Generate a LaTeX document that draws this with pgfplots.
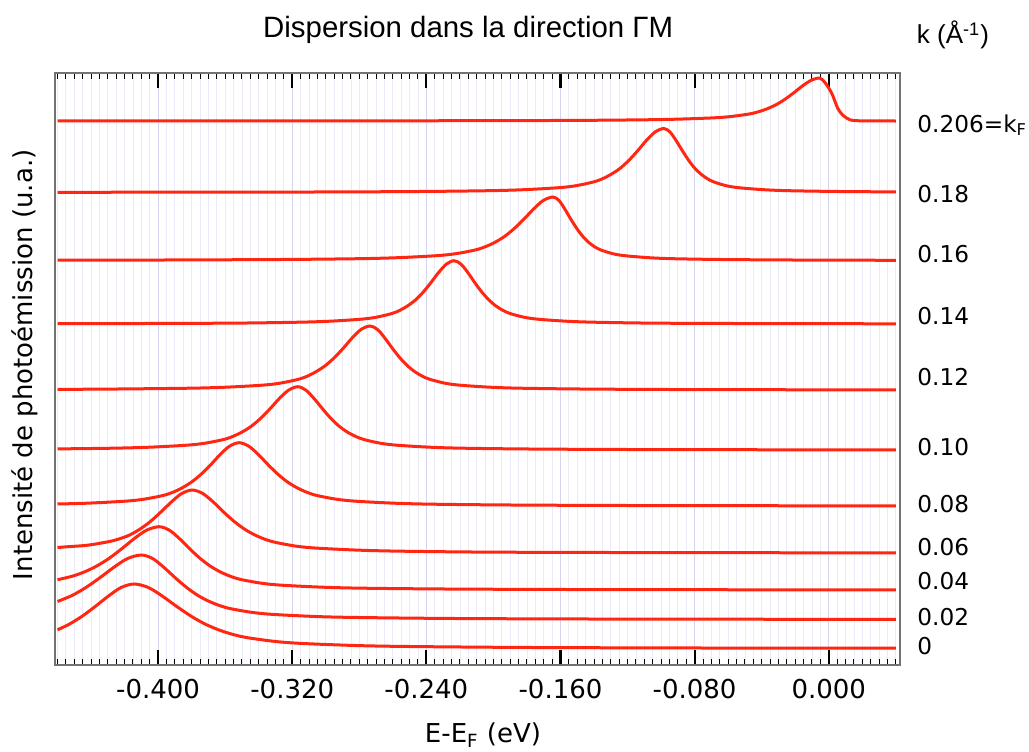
\documentclass[border=0pt]{standalone}
\usepackage{fontspec}
\setmainfont{DejaVu Sans}
\newfontfamily\helv{Liberation Sans}
\usepackage{pgfplots}
\pgfplotsset{compat=1.18}
\definecolor{edc}{RGB}{255,38,18}
\definecolor{gridmin}{RGB}{234,234,248}
\definecolor{gridmaj}{RGB}{212,212,240}
\newcommand\lbl{\fontsize{13}{15}\selectfont}
\newcommand\klbl{\fontsize{11.6}{14}\selectfont}
\tikzset{edcline/.style={draw=edc, solid, line width=1.5pt, smooth, mark=none}}

\begin{document}
\begin{tikzpicture}
\useasboundingbox (-27.5pt,-43pt) rectangle (487pt,332.5pt);
\begin{axis}[
  at={(0,0)}, anchor=south west,
  scale only axis, width=422.5pt, height=296pt,
  xmin=-0.4615, xmax=0.0425, ymin=0, ymax=592,
  xtick={-0.4,-0.32,-0.24,-0.16,-0.08,0},
  xticklabels={-0.400,-0.320,-0.240,-0.160,-0.080,0.000},
  minor xtick={-0.46,-0.455,...,0.041},
  ytick=\empty,
  tick pos=both, tick align=inside,
  major tick length=7.5pt, minor tick length=3pt,
  major tick style={black, line width=1.1pt},
  minor tick style={black, line width=0.5pt},
  xmajorgrids, xminorgrids,
  major grid style={draw=gridmaj, line width=0.5pt},
  minor grid style={draw=gridmin, line width=0.4pt},
  axis line style={draw=black!55, line width=0.8pt},
  tick label style={font=\lbl},
  xticklabel style={yshift=-3.5pt},
  clip=false,
]
% k = 0
\addplot[edcline] coordinates {(-0.4600,35.2) (-0.4530,40.8) (-0.4453,48.8) (-0.4376,58.4) (-0.4298,68.7) (-0.4221,77.5) (-0.4143,81.0) (-0.4058,77.5) (-0.3973,68.7) (-0.3888,58.4) (-0.3803,48.8) (-0.3718,40.8) (-0.3633,34.8) (-0.3548,30.3) (-0.3463,27.2) (-0.3293,23.4) (-0.3123,21.4) (-0.2783,19.3) (-0.2443,18.4) (-0.1763,17.5) (-0.0743,17.0) (0.0400,16.8)};
% k = 0.02
\addplot[edcline] coordinates {(-0.4600,63.5) (-0.4510,69.8) (-0.4428,77.8) (-0.4346,87.4) (-0.4264,97.7) (-0.4182,106.5) (-0.4100,110.0) (-0.4033,106.5) (-0.3966,97.7) (-0.3899,87.4) (-0.3832,77.8) (-0.3765,69.8) (-0.3698,63.8) (-0.3631,59.3) (-0.3564,56.2) (-0.3430,52.4) (-0.3296,50.4) (-0.3028,48.3) (-0.2760,47.4) (-0.2224,46.5) (-0.1420,46.0) (-0.0080,45.7) (0.0400,45.7)};
% k = 0.04
\addplot[edcline] coordinates {(-0.4600,85.3) (-0.4516,88.6) (-0.4441,93.0) (-0.4367,98.9) (-0.4292,106.7) (-0.4218,116.1) (-0.4143,126.3) (-0.4069,134.8) (-0.3994,138.3) (-0.3933,134.8) (-0.3872,126.3) (-0.3811,116.1) (-0.3750,106.7) (-0.3689,98.9) (-0.3628,93.0) (-0.3567,88.6) (-0.3506,85.5) (-0.3384,81.8) (-0.3262,79.8) (-0.3018,77.8) (-0.2774,76.8) (-0.2286,76.0) (-0.1554,75.5) (-0.0334,75.2) (0.0400,75.1)};
% k = 0.06
\addplot[edcline] coordinates {(-0.4600,117.5) (-0.4546,118.2) (-0.4421,119.8) (-0.4296,123.3) (-0.4234,126.0) (-0.4171,129.9) (-0.4109,135.8) (-0.4046,143.5) (-0.3984,152.9) (-0.3921,163.0) (-0.3859,171.5) (-0.3796,175.0) (-0.3734,171.5) (-0.3671,163.0) (-0.3609,152.9) (-0.3546,143.5) (-0.3484,135.8) (-0.3421,129.9) (-0.3359,125.5) (-0.3296,122.5) (-0.3171,118.7) (-0.3046,116.8) (-0.2796,114.8) (-0.2546,113.8) (-0.2046,112.9) (-0.1296,112.5) (-0.0046,112.2) (0.0400,112.1)};
% k = 0.08
\addplot[edcline] coordinates {(-0.4600,161.0) (-0.4425,161.8) (-0.4198,163.8) (-0.4085,165.8) (-0.3971,169.5) (-0.3914,172.6) (-0.3858,177.0) (-0.3801,182.9) (-0.3744,190.7) (-0.3687,200.1) (-0.3631,210.3) (-0.3574,218.8) (-0.3517,222.3) (-0.3459,218.8) (-0.3401,210.3) (-0.3343,200.1) (-0.3285,190.7) (-0.3227,182.9) (-0.3169,177.0) (-0.3111,172.6) (-0.3053,169.5) (-0.2937,165.8) (-0.2821,163.8) (-0.2589,161.8) (-0.2357,160.8) (-0.1893,160.0) (-0.1197,159.5) (-0.0037,159.2) (0.0400,159.2)};
% k = 0.10
\addplot[edcline] coordinates {(-0.4600,216.1) (-0.4272,216.8) (-0.4051,217.8) (-0.3830,219.8) (-0.3720,221.8) (-0.3609,225.5) (-0.3554,228.6) (-0.3499,233.0) (-0.3443,238.9) (-0.3388,246.7) (-0.3333,256.1) (-0.3278,266.3) (-0.3222,274.8) (-0.3167,278.3) (-0.3118,274.8) (-0.3069,266.3) (-0.3019,256.1) (-0.2970,246.7) (-0.2921,238.9) (-0.2872,233.0) (-0.2822,228.6) (-0.2773,225.5) (-0.2675,221.8) (-0.2576,219.8) (-0.2379,217.8) (-0.2182,216.8) (-0.1788,216.0) (-0.1197,215.5) (-0.0212,215.2) (0.0400,215.1)};
% k = 0.12
\addplot[edcline] coordinates {(-0.4600,275.6) (-0.4241,276.0) (-0.3811,276.8) (-0.3596,277.8) (-0.3381,279.8) (-0.3274,281.8) (-0.3166,285.6) (-0.3112,288.7) (-0.3059,293.2) (-0.3005,299.1) (-0.2951,307.0) (-0.2897,316.5) (-0.2844,326.8) (-0.2790,335.5) (-0.2736,339.0) (-0.2691,335.5) (-0.2647,326.8) (-0.2602,316.5) (-0.2557,307.0) (-0.2512,299.1) (-0.2468,293.2) (-0.2423,288.7) (-0.2378,285.6) (-0.2289,281.8) (-0.2199,279.8) (-0.2020,277.8) (-0.1841,276.8) (-0.1483,276.0) (-0.0946,275.5) (-0.0051,275.2) (0.0400,275.2)};
% k = 0.14
\addplot[edcline] coordinates {(-0.4600,341.3) (-0.4085,341.5) (-0.3530,341.9) (-0.3160,342.8) (-0.2975,343.8) (-0.2790,345.8) (-0.2698,347.8) (-0.2605,351.5) (-0.2559,354.6) (-0.2513,359.0) (-0.2466,364.9) (-0.2420,372.7) (-0.2374,382.1) (-0.2328,392.3) (-0.2281,400.8) (-0.2235,404.3) (-0.2193,400.8) (-0.2152,392.3) (-0.2110,382.1) (-0.2068,372.7) (-0.2026,364.9) (-0.1985,359.0) (-0.1943,354.6) (-0.1901,351.5) (-0.1818,347.8) (-0.1734,345.8) (-0.1567,343.8) (-0.1400,342.8) (-0.1066,341.9) (-0.0565,341.5) (0.0400,341.2)};
% k = 0.16
\addplot[edcline] coordinates {(-0.4600,404.8) (-0.3965,405.0) (-0.3269,405.5) (-0.2805,406.3) (-0.2573,407.3) (-0.2341,409.3) (-0.2225,411.3) (-0.2109,415.0) (-0.2051,418.1) (-0.1993,422.5) (-0.1935,428.4) (-0.1877,436.3) (-0.1819,445.7) (-0.1761,455.9) (-0.1703,464.5) (-0.1645,468.0) (-0.1609,464.5) (-0.1574,455.9) (-0.1538,445.7) (-0.1502,436.3) (-0.1466,428.4) (-0.1431,422.5) (-0.1395,418.1) (-0.1359,415.0) (-0.1288,411.3) (-0.1216,409.3) (-0.1073,407.3) (-0.0930,406.3) (-0.0644,405.5) (-0.0215,405.0) (0.0400,404.7)};
% k = 0.18
\addplot[edcline] coordinates {(-0.4600,472.7) (-0.3074,473.0) (-0.2447,473.5) (-0.2029,474.3) (-0.1820,475.3) (-0.1611,477.3) (-0.1507,479.3) (-0.1402,483.1) (-0.1350,486.2) (-0.1298,490.7) (-0.1245,496.6) (-0.1193,504.5) (-0.1141,514.0) (-0.1089,524.3) (-0.1036,533.0) (-0.0984,536.5) (-0.0947,533.0) (-0.0910,524.3) (-0.0872,514.0) (-0.0835,504.5) (-0.0798,496.6) (-0.0761,490.7) (-0.0723,486.2) (-0.0686,483.1) (-0.0612,479.3) (-0.0537,477.3) (-0.0388,475.3) (-0.0239,474.3) (0.0059,473.5) (0.0400,473.1)};
% k = 0.206 = kF
\addplot[edcline] coordinates {(-0.4600,544.1) (-0.3189,544.1) (-0.2144,544.3) (-0.1517,544.6) (-0.1099,545.2) (-0.0890,545.9) (-0.0681,547.2) (-0.0577,548.6) (-0.0472,551.1) (-0.0420,553.2) (-0.0368,556.2) (-0.0315,560.2) (-0.0263,565.5) (-0.0211,571.9) (-0.0159,578.8) (-0.0106,584.6) (-0.0054,587.0) (-0.0024,582.7) (0.0000,577.0) (0.0023,569.8) (0.0053,556.9) (0.0083,550.0) (0.0125,545.3) (0.0184,544.2) (0.0400,544.0)};

% labels
\node[font=\helv\fontsize{14.7}{17}\selectfont] at (rel axis cs:0.489,1.0726) {Dispersion dans la direction ΓM};
\node[font=\helv\fontsize{13}{15}\selectfont] at (rel axis cs:1.0627,1.064) {k (Å\textsuperscript{-1})};
\node[font=\lbl] at (rel axis cs:0.5065,-0.118) {E-E\textsubscript{F} (eV)};
\node[font=\lbl, rotate=90] at (rel axis cs:-0.0355,0.507) {Intensité de photoémission (u.a.)};
\begin{scope}[every node/.style={font=\klbl, anchor=base west, inner sep=0pt, xshift=8.5pt}]
\node at (axis cs:0.0425,533) {0.206=k\textsubscript{F}};
\node at (axis cs:0.0425,463) {0.18};
\node at (axis cs:0.0425,403) {0.16};
\node at (axis cs:0.0425,341) {0.14};
\node at (axis cs:0.0425,280) {0.12};
\node at (axis cs:0.0425,210) {0.10};
\node at (axis cs:0.0425,153) {0.08};
\node at (axis cs:0.0425,110) {0.06};
\node at (axis cs:0.0425,76) {0.04};
\node at (axis cs:0.0425,40) {0.02};
\node at (axis cs:0.0425,11) {0};
\end{scope}
\end{axis}
\end{tikzpicture}
\end{document}
